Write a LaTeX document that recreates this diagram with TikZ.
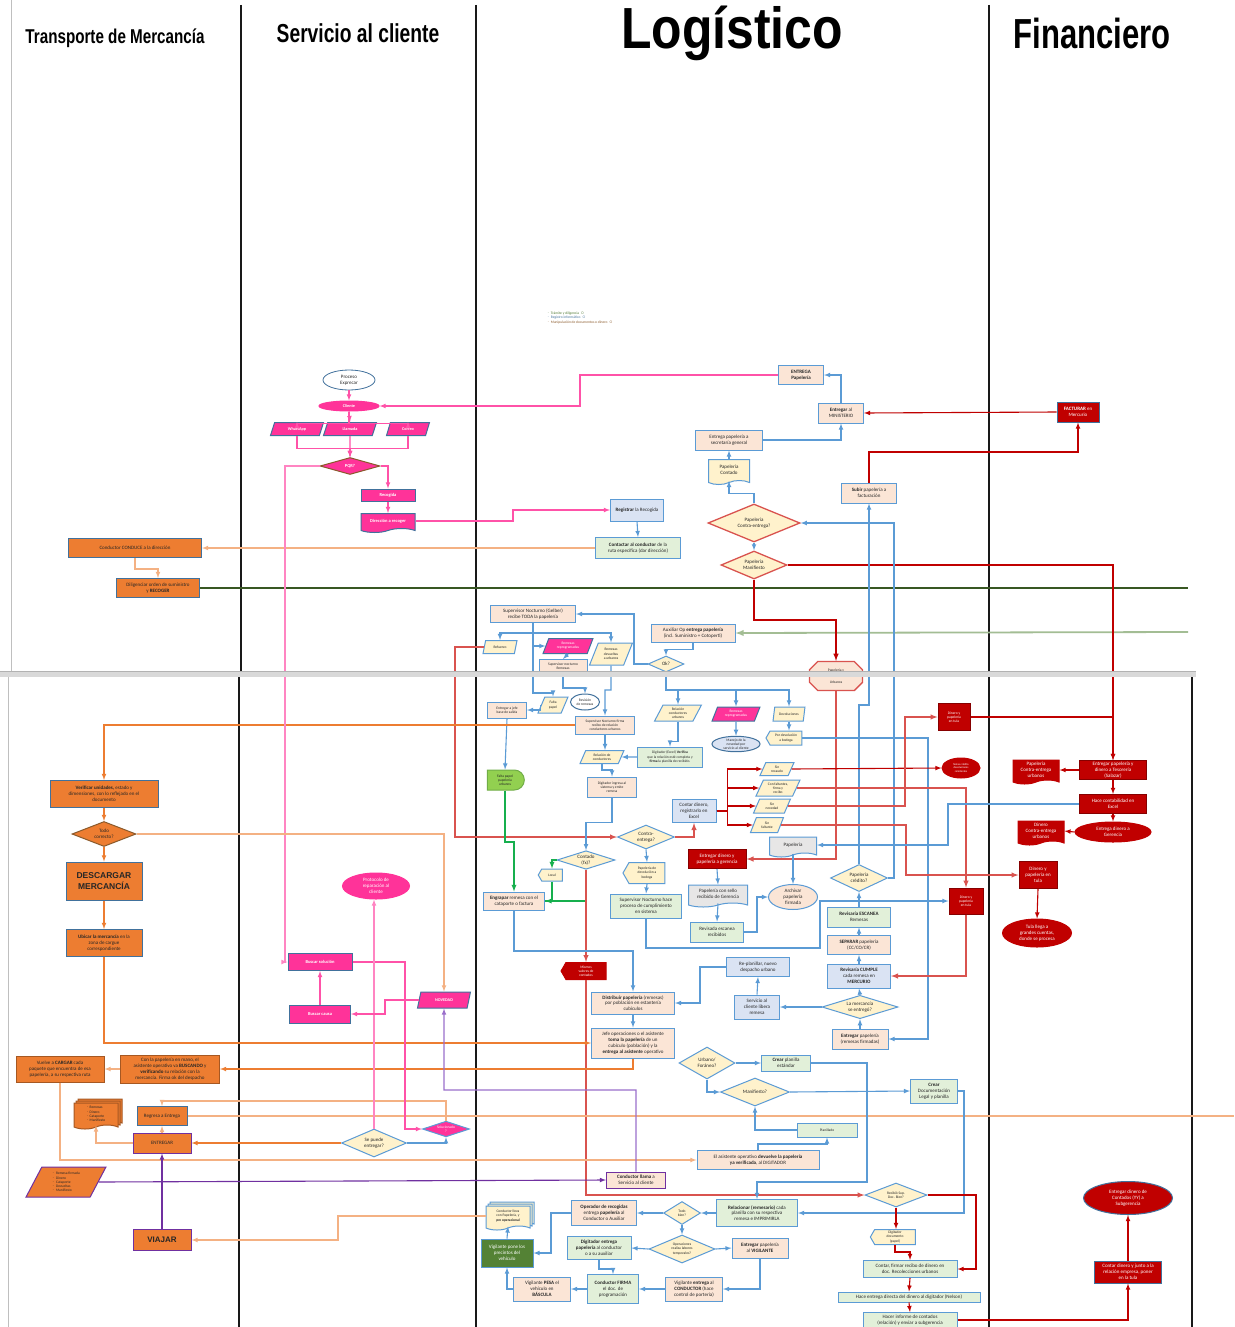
\documentclass[tikz,border=0pt]{standalone}
\usepackage{fontspec}
\setmainfont{Carlito}
\newfontfamily\hdrfont{Liberation Sans}
\usepackage{tikz}
\usetikzlibrary{arrows,shapes.geometric,shapes.symbols,shapes.misc,shadows}
\definecolor{lbl}{HTML}{5B9BD5}
\definecolor{peach}{HTML}{FBE5D6}
\definecolor{yel}{HTML}{FFF2CC}
\definecolor{lgrn}{HTML}{E2F0D9}
\definecolor{lblu}{HTML}{DAE3F3}
\definecolor{gry}{HTML}{E7E6E6}
\definecolor{pnk}{HTML}{FF3399}
\definecolor{lpnk}{HTML}{FF85C2}
\definecolor{orng}{HTML}{ED7D31}
\definecolor{lorg}{HTML}{F4B183}
\definecolor{obord}{HTML}{41719C}
\definecolor{dred}{HTML}{C00000}
\definecolor{lred}{HTML}{D9534F}
\definecolor{purp}{HTML}{7030A0}
\definecolor{lpur}{HTML}{9B6FCB}
\definecolor{grn}{HTML}{70AD47}
\definecolor{bgrn}{HTML}{00B050}
\definecolor{lime}{HTML}{92D050}
\definecolor{dgrn}{HTML}{548235}
\definecolor{fgrn}{HTML}{385723}
\definecolor{sgrn}{HTML}{A3BD94}
\definecolor{brn}{HTML}{8B5A2B}

\begin{document}
\begin{tikzpicture}[x=1pt,y=-1pt,>=latex,
    nd/.style={font=\fontsize{5}{5.8}\selectfont, align=center, inner sep=0.5pt, line width=1pt, text=black!85},
    tn/.style={font=\fontsize{3.6}{4.2}\selectfont},
    wh/.style 2 args={minimum width=#1pt, minimum height=#2pt},
    bx/.style={nd, rectangle, draw=lbl, fill=peach},
    gbx/.style={bx, fill=lgrn},
    bbx/.style={bx, fill=lblu},
    obx/.style={nd, rectangle, draw=obord, fill=orng},
    pbx/.style={nd, rectangle, draw=obord, fill=pnk, text=white, font=\fontsize{4.5}{5.2}\selectfont\bfseries},
    rbx/.style={nd, rectangle, draw=dred!70!black, fill=dred, text=white},
    dia/.style={nd, diamond, aspect=2, inner sep=0pt, draw=lbl, fill=yel},
    para/.style={nd, trapezium, trapezium left angle=65, trapezium right angle=115, trapezium stretches=true, inner sep=0pt, draw=lbl, fill=yel},
    pp/.style={para, fill=pnk, draw=obord, text=white, font=\fontsize{4.2}{4.8}\selectfont\bfseries},
    ell/.style={nd, ellipse, inner sep=0pt},
    doc/.style={nd, tape, tape bend top=none, tape bend height=4pt, inner sep=0pt},
    disp/.style={nd, signal, signal to=west, signal pointer angle=120, inner sep=0pt, draw=lbl, fill=yel},
    dly/.style={nd, rounded rectangle, rounded rectangle left arc=none, inner sep=0pt},
    hdr/.style={inner sep=0pt, text=black},
    lane/.style={line width=2.6pt, black!90},
    bl/.style={draw=lbl, line width=1.1pt},
    rd/.style={draw=dred, line width=1.1pt},
    rdl/.style={draw=lred, line width=1.4pt},
    pk/.style={draw=pnk!85, line width=1.1pt},
    pkl/.style={draw=lpnk, line width=1.1pt},
    ol/.style={draw=lorg, line width=1.1pt},
    od/.style={draw=orng, line width=1.1pt},
    pu/.style={draw=purp, line width=1.1pt},
    pul/.style={draw=lpur, line width=1.1pt},
    gn/.style={draw=bgrn!80!grn, line width=1.3pt}]
    \useasboundingbox (0,0) rectangle (1234,1327);
    \fill[white] (0,0) rectangle (1234,1327);
    % Lanes
    \draw[black!25, line width=1pt] (11,0) -- (11,672);
    \foreach \x in {241,476,989}
      \draw[lane] (\x,5) -- (\x,671);
    \draw[black!25, line width=1pt] (8,677) -- (8,1327);
    \foreach \x in {239,476,989,1192}
      \draw[lane] (\x,677) -- (\x,1327);
    % Headers
    \node[hdr, font=\hdrfont\bfseries\fontsize{20}{20}\selectfont] (hTra) at (115,38) {\scalebox{0.76}[1]{Transporte de Mercancía}};
    \node[hdr, font=\hdrfont\bfseries\fontsize{26}{26}\selectfont] (hSer) at (358,33) {\scalebox{0.74}[1]{Servicio al cliente}};
    \node[hdr, font=\hdrfont\bfseries\fontsize{58}{58}\selectfont] (hLog) at (732,33) {\scalebox{0.86}[1]{Logístico}};
    \node[hdr, font=\hdrfont\bfseries\fontsize{42}{42}\selectfont] (hFin) at (1092,33) {\scalebox{0.74}[1]{Financiero}};
    % Legend
    \node[nd, tn, align=left, anchor=west] (legend) at (546,318) {\textcolor{grn!70!black}{$\cdot$\ \ Trámite y diligencia\ \ $\circ$}\\\textcolor{obord}{$\cdot$\ \ Registro informático\ \ $\circ$}\\\textcolor{brn}{$\cdot$\ \ Manipulación de documentos o dinero\ \ $\circ$}};

    % --- Servicio al cliente (top) ---
    \node[ell, wh={52}{20}, draw=obord, fill=white, line width=0.8pt] (proc) at (349,380) {Proceso\\Exprecar};
    \node[ell, wh={60}{10}, fill=pnk, draw=pnk, text=white, font=\fontsize{4.2}{4.6}\selectfont\bfseries] (cliente) at (349,406) {Cliente};
    \node[pp, wh={53}{13}] (wapp) at (297,429) {WhatsApp};
    \node[pp, wh={53}{13}] (llam) at (350,429) {Llamada};
    \node[pp, wh={43}{13}] (corr) at (408,429) {Correo};
    \node[dia, wh={60}{17}, fill=pnk, draw=brn, text=white, font=\fontsize{4.5}{5}\selectfont\bfseries] (pqr) at (350,466) {PQR?};
    \node[pbx, wh={54}{12}] (recog) at (388,495) {Recogida};
    \node[doc, wh={54}{19}, fill=pnk, draw=obord, text=white, font=\fontsize{4.5}{5}\selectfont\bfseries] (direc) at (388,521) {Dirección a recoger};
    % --- Transporte (top) ---
    \node[obx, wh={133}{19}] (conduce) at (135,548) {Conductor CONDUCE a la dirección};
    \node[obx, wh={83}{19}] (dilig) at (158,588) {Diligenciar orden de suministro\\y \textbf{RECOGER}};
    % --- Logistico (top) ---
    \node[bbx, wh={53}{22}] (registrar) at (637,510) {\textbf{Registrar} la Recogida};
    \node[gbx, wh={85}{21}] (contactar) at (638,548) {\textbf{Contactar al conductor} de la\\ruta específica (dar dirección)};
    \node[bx, wh={45}{19}] (entrega) at (801,375) {\textbf{ENTREGA}\\\textbf{Papelería}};
    \node[bx, wh={45}{20}] (entmin) at (841,413) {\textbf{Entregar} al\\MINISTERIO};
    \node[bx, wh={67}{20}] (secre) at (729,440) {Entrega papelería a\\secretaría general};
    \node[doc, wh={41}{25}, draw=lbl, fill=yel] (contado) at (729,470) {Papelería\\Contado};
    \node[dia, wh={92}{38}, draw=lred, line width=1.3pt] (pce) at (754,523) {Papelería\\Contra-entrega?};
    \node[dia, wh={66}{28}, draw=lred, line width=1.3pt] (pman) at (754,565) {Papelería\\Manifiesto};
    \node[bx, wh={55}{20}] (subir) at (869,493) {\textbf{Subir} papelería a\\facturación};
    \node[rbx, wh={42}{20}, draw=obord] (facturar) at (1078,412) {\textbf{FACTURAR} en\\Mercurio};
    \node[bx, wh={85}{17}] (supnoc1) at (533,614) {Supervisor Nocturno (Gelber)\\recibe TODA la papelería};
    \node[bx, wh={84}{18}] (auxop) at (693,633) {Auxiliar Op \textbf{entrega papelería}\\(incl. Suministro + Cotoperti)};
    \node[dia, wh={36}{16}] (okq) at (666,664) {Ok?};
    \node[para, wh={34}{13}, tn] (refuerzo) at (500,647) {Refuerzo};
    \node[pp, wh={50}{15}, tn] (reprog) at (568,646) {Remesas\\reprogramadas};
    \node[bx, wh={48}{13}, tn] (supnoc2) at (563,666) {Supervisor nocturno\\Remesas};
    \node[para, wh={43}{22}, tn] (remdev) at (611,654) {Remesas\\devueltas\\a urbanos};
    \node[nd, chamfered rectangle, chamfered rectangle xsep=5pt, wh={53}{29}, draw=lred, line width=1.3pt, fill=peach, tn] (papurb) at (836,676) {Papelería y\\[8pt]Urbanos};
    % --- Financiero (top) ---

    % --- Transporte (bottom) ---
    \node[obx, wh={108}{27}] (verif) at (104,794) {\textbf{Verificar unidades,} estado y\\dimensiones, con lo reflejado en el\\documento};
    \node[dia, wh={64}{25}, fill=orng, draw=brn] (todo) at (104,834) {Todo\\correcto?};
    \node[obx, wh={76}{38}, font=\hdrfont\bfseries\fontsize{8.5}{10.5}\selectfont] (descargar) at (104,881) {DESCARGAR\\MERCANCÍA};
    \node[obx, wh={76}{27}] (ubicar) at (104,943) {\textbf{Ubicar la mercancía} en la\\zona de cargue\\correspondiente};
    \node[obx, wh={88}{26}, draw=orng!70!black] (vuelve) at (60,1069) {Vuelve a \textbf{CARGAR} cada\\paquete que encuentra de esa\\papelería, a su respectiva ruta};
    \node[obx, wh={99}{28}, draw=orng!70!black] (conpap) at (170,1069) {Con la papelería en mano, el\\asistente operativo va \textbf{BUSCANDO} y\\\textbf{verificando} su relación con la\\mercancía. Firma ok del despacho};
    \node[doc, wh={44}{26}, fill=orng, draw=orng!70!black, align=left, tn, double copy shadow={shadow xshift=2pt, shadow yshift=2pt, fill=orng, draw=orng!70!black}] (odocs) at (96,1114) {$\cdot$\ Remesas\\$\cdot$\ Dinero\\$\cdot$\ Cataporte\\$\cdot$\ Manifiesto};
    \node[obx, wh={50}{19}] (regresa) at (162,1116) {Regresa a Entrega};
    \node[obx, wh={58}{20}, draw=purp] (entregar) at (162,1143) {ENTREGAR};
    \node[para, wh={80}{30}, fill=orng, draw=purp, align=left, tn] (olist) at (66,1182) {$\cdot$\ \ Remesa firmada\\$\cdot$\ \ Dinero\\$\cdot$\ \ Cataporte\\$\cdot$\ \ Devueltas\\$\cdot$\ \ Manifiesto};
    \node[obx, wh={58}{21}, draw=purp, font=\hdrfont\bfseries\fontsize{8}{9}\selectfont] (viajar) at (162,1240) {VIAJAR};
    % --- Servicio al cliente (bottom) ---
    \node[ell, wh={67}{26}, fill=pnk, draw=pnk, text=white] (protocolo) at (376,886) {Protocolo de\\reparación al\\cliente};
    \node[pbx, wh={64}{17}] (buscsol) at (320,962) {Buscar solución};
    \node[pbx, wh={61}{18}] (busccausa) at (320,1014) {Buscar causa};
    \node[pp, wh={53}{16}] (noved) at (444,1000) {NOVEDAD};
    \node[dia, wh={65}{28}] (sepuede) at (374,1143) {Se puede\\entregar?};
    \node[dia, wh={47}{15}, fill=pnk, draw=lbl, text=white, tn] (soluc) at (446,1129) {Solucionado\\?};
    % --- Logistico (bottom) ---
    \node[bx, wh={39}{16}, tn] (entjefe) at (507,710) {Entregar a jefe\\base de salida};
    \node[para, wh={30}{16}, tn] (faltap) at (553,705) {Falta\\papel};
    \node[ell, wh={29}{16}, draw=obord, fill=white, tn] (revrem) at (585,702) {Revisión\\de remesas};
    \node[bx, wh={59}{18}, tn] (supnoc3) at (605,725) {Supervisor Nocturno firma\\recibo de relación\\conductores urbanos};
    \node[para, wh={44}{13}, tn] (relcond) at (602,757) {Relación de\\conductores};
    \node[bx, wh={49}{20}, tn] (digsis) at (612,787) {Digitador ingresa al\\sistema y emite\\remesa};
    \node[para, wh={47}{16}, tn] (relurb) at (678,713) {Relación\\conductores\\urbanos};
    \node[pp, wh={48}{14}, tn] (reprog2) at (736,714) {Remesas\\reprogramadas};
    \node[para, wh={32}{14}, tn] (devol) at (789,714) {Devoluciones};
    \node[ell, wh={48}{15}, draw=obord, fill=lblu, tn] (manejo) at (736,744) {Manejo de la\\novedad por\\servicio al cliente};
    \node[disp, wh={36}{14}, tn] (bodega) at (786,738) {Por devolución\\a bodega};
    \node[gbx, wh={65}{20}, tn] (digexc) at (670,757) {Digitador (Excel) \textbf{Verifica}\\que la relación esté completa y\\\textbf{firma} la planilla de recibido.};
    \node[dly, wh={37}{20}, fill=lime, draw=grn, tn] (faltaurb) at (505,780) {Falta papel\\papelería\\urbanos};
    \node[bbx, wh={44}{23}] (contar) at (694,811) {Contar dinero,\\registrarlo en\\Excel};
    \node[para, wh={34}{13}, tn] (p1) at (777,769) {Sin\\recaudo};
    \node[para, wh={44}{16}, tn] (p2) at (778,788) {Con faltantes,\\firma y\\recibo};
    \node[para, wh={37}{14}, tn] (p3) at (772,806) {Sin\\novedad};
    \node[para, wh={33}{15}, tn] (p4) at (767,825) {Sin\\faltante};
    \node[dia, wh={57}{24}] (contra2) at (646,837) {Contra-\\entrega?};
    \node[dia, wh={58}{18}] (contado2) at (586,860) {Contado\\(fx)?};
    \node[disp, wh={24}{12}, tn] (local) at (552,875) {Local};
    \node[disp, wh={42}{21}, tn] (devbod) at (647,873) {Papelería de\\devolución a\\bodega};
    \node[bx, wh={61}{18}] (engrapar) at (514,901) {\textbf{Engrapar} remesa con el\\cataporte o factura};
    \node[gbx, wh={71}{24}] (supproc) at (646,906) {Supervisor Nocturno hace\\proceso de cumplimiento\\en sistema};
    \node[disp, wh={45}{17}, fill=dred, draw=dred, text=white, tn] (mismos) at (586,971) {Mismos\\valores de\\contados};
    \node[rbx, wh={58}{19}] (entger) at (717,859) {Entregar dinero y\\papelería a gerencia};
    \node[doc, wh={59}{22}, draw=lbl, fill=gry] (papsello) at (718,894) {Papelería con sello\\recibido de Gerencia};
    \node[gbx, wh={53}{20}] (revisada) at (717,932) {Revisada escanea\\recibidos};
    \node[doc, wh={47}{20}, draw=lbl, fill=gry] (papel) at (793,845) {Papelería};
    \node[ell, wh={49}{25}, draw=lbl, fill=peach] (archivar) at (793,897) {Archivar\\papelería\\firmada};
    \node[dia, wh={57}{27}] (credito) at (859,878) {Papelería\\crédito?};
    \node[gbx, wh={63}{20}] (escanea) at (859,917) {\textbf{Revisaría ESCANEA}\\Remesas};
    \node[bx, wh={63}{19}] (separar) at (859,945) {\textbf{SEPARAR} papelería\\(CC/CO/CR)};
    \node[bbx, wh={63}{24}] (cumple) at (859,976) {\textbf{Revisaría CUMPLE}\\cada remesa en\\\textbf{MERCURIO}};
    \node[dia, wh={76}{20}] (seentrego) at (860,1007) {La mercancía\\se entregó?};
    \node[bx, wh={56}{20}] (entpap) at (860,1039) {\textbf{Entregar} papelería\\(remesas firmadas)};
    \node[bbx, wh={63}{19}] (replan) at (758,967) {Re-planillar, nuevo\\despacho urbano};
    \node[bbx, wh={45}{24}] (servlib) at (757,1007) {Servicio al\\cliente libera\\remesa};
    \node[bx, wh={83}{22}] (distrib) at (633,1003) {\textbf{Distribuir papelería} (remesas)\\por población en estantería\\cubículos};
    \node[bx, wh={83}{30}] (jefeop) at (633,1043) {Jefe operaciones o el asistente\\\textbf{toma la papelería} de un\\cubículo (población) y la\\\textbf{entrega al asistente} operativo};
    \node[dia, wh={56}{32}] (urbfor) at (707,1063) {Urbano/\\Foráneo?};
    \node[gbx, wh={49}{16}] (crearpl) at (786,1063) {\textbf{Crear} planilla\\estándar};
    \node[dia, wh={69}{28}] (manif2) at (755,1092) {Manifiesto?};
    \node[gbx, wh={47}{24}] (creardoc) at (934,1091) {\textbf{Crear}\\Documentación\\Legal y planilla};
    \node[gbx, wh={60}{14}, tn] (planill) at (827,1130) {Planillado};
    \node[bx, wh={122}{19}] (asist) at (758,1160) {El asistente operativo \textbf{devuelve la papelería}\\\textbf{ya verificada}, al DIGITADOR};
    \node[bx, wh={59}{16}, draw=purp] (llama) at (636,1180) {\textbf{Conductor llama} a\\Servicio al cliente};
    \node[dia, wh={62}{24}, tn] (recibio) at (896,1195) {Recibió Sup.\\Doc. Bien?};
    \node[disp, wh={45}{15}, tn] (digdoc) at (895,1237) {Digitador\\documento\\(papel)};
    \node[gbx, wh={94}{17}] (contfir) at (910,1269) {Contar, firmar recibo de dinero en\\doc. Recolecciones urbanos};
    \node[gbx, wh={142}{10}] (entdir) at (909,1297) {Hace entrega directa del dinero al digitador (Nelson)};
    \node[gbx, wh={94}{15}] (informe) at (910,1320) {Hacer informe de contados\\(relación) y enviar a subgerencia};
    \node[gbx, wh={81}{27}] (relac) at (757,1213) {\textbf{Relacionar (remesario)} cada\\planilla con su respectiva\\remesa e IMPRIMIRLA};
    \node[dia, wh={37}{23}, tn] (todook) at (682,1213) {Todo\\bien?};
    \node[bx, wh={65}{25}] (operador) at (604,1213) {\textbf{Operador de recogidas}\\entrega \textbf{papelería} al\\Conductor o Auxiliar};
    \node[dia, wh={66}{28}, tn] (operac) at (682,1249) {Operaciones\\realiza labores\\temporales?};
    \node[gbx, wh={64}{23}] (digent) at (599,1248) {\textbf{Digitador entrega}\\\textbf{papelería} al conductor\\o a su auxiliar};
    \node[bx, wh={56}{20}] (entvig) at (760,1248) {\textbf{Entregar} papelería\\al \textbf{VIGILANTE}};
    \node[bx, wh={57}{24}] (vigent) at (694,1289) {Vigilante \textbf{entrega} al\\\textbf{CONDUCTOR} (hace\\control de portería)};
    \node[gbx, wh={51}{29}] (condfir) at (613,1289) {\textbf{Conductor FIRMA}\\el doc. de\\programación};
    \node[bx, wh={57}{24}] (vigpesa) at (542,1289) {Vigilante \textbf{PESA} el\\vehículo en\\\textbf{BÁSCULA}};
    \node[nd, rectangle, wh={52}{28}, fill=dgrn, draw=lbl, text=white] (vigprec) at (507,1253) {Vigilante pone los\\precintos del\\vehículo};
    \node[doc, wh={44}{24}, draw=lbl, fill=yel, tn, double copy shadow={shadow xshift=2pt, shadow yshift=2pt, fill=yel, draw=lbl}] (multi) at (508,1216) {Conductor lleva\\con Papelería, y\\\textbf{pre operacional}};
    % --- Financiero (bottom) ---
    \node[rbx, wh={32}{27}, tn] (tula1) at (954,717) {Dinero y\\papelería\\en tula};
    \node[ell, wh={38}{20}, fill=dred, draw=dred, text=white, font=\fontsize{2.8}{3.3}\selectfont] (notas) at (961,768) {Notas crédito\\devoluciones\\remitentes};
    \node[rbx, wh={34}{26}, tn] (tula3) at (966,901) {Dinero y\\papelería\\en tula};
    \node[rbx, wh={67}{19}] (tesor) at (1113,770) {Entregar papelería y\\dinero a Tesorería\\(Salazar)};
    \node[doc, wh={46}{24}, fill=dred, draw=dred, text=white] (pcedoc) at (1036,770) {Papelería\\Contra-entrega\\urbanos};
    \node[rbx, wh={67}{19}] (contab) at (1113,804) {Hace contabilidad en\\Excel};
    \node[ell, wh={76}{20}, fill=dred, draw=dred, text=white] (entdin) at (1113,832) {Entrega dinero a\\Gerencia};
    \node[doc, wh={46}{24}, fill=dred, draw=dred, text=white] (dcedoc) at (1041,831) {Dinero\\Contra-entrega\\urbanos};
    \node[rbx, wh={38}{27}] (tula2) at (1038,875) {Dinero y\\papelería en\\tula};
    \node[ell, wh={69}{28}, fill=dred, draw=dred, text=white] (tulagc) at (1037,933) {Tula llega a\\grandes cuentas,\\donde se procesa};
    \node[ell, wh={89}{33}, fill=dred, draw=obord, text=white] (subger) at (1128,1198) {Entregar dinero de\\Contados (YY) a\\Subgerencia};
    \node[rbx, wh={67}{22}, draw=obord] (contjunto) at (1128,1272) {Contar dinero y junto a la\\relación empresa, poner\\en la tula};
    % Free ends
    \coordinate (gd1) at (1188,588);
    \coordinate (gd2) at (1188,632);
    \coordinate (oend) at (1234,1116);

    % --- Connectors (top) ---
    \draw[pk,->] (proc.south) -- (cliente.north);
    \draw[pk,->] (cliente.south) -- ++(0,12) -| (wapp.north);
    \draw[pk,->] (cliente.south) -- (llam.north);
    \draw[pk,->] (cliente.south) -- ++(0,12) -| (corr.north);
    \draw[pk,->] (wapp.south) -- ++(0,12.5) -| (pqr.north);
    \draw[pk,->] (corr.south) -- ++(0,12.5) -| (pqr.north);
    \draw[pk,->] (llam.south) -- (pqr.north);
    \draw[pk,->] (pqr.east) -| (recog.north);
    \draw[pk,->] (recog.south) -- (direc.north);
    \draw[pk,->] (direc.east) -| (513,510) -- (registrar.west);
    \draw[pk,->] (entrega.west) -| (580,406) -- (cliente.east);
    \draw[bl,->] (registrar.south) -- (contactar.north);
    \draw[ol,->] (contactar.west) -- (conduce.east);
    \draw[ol,->] (conduce.south) -- ++(0,11) -| (dilig.north);
    \draw[draw=fgrn, line width=1.2pt] (dilig.east) -- (gd1);
    \draw[draw=sgrn, line width=1.8pt,->] (gd2) -- (auxop.east);
    \draw[bl,->] (pce.north) -- ++(0,-10) -| (contado.south);
    \draw[bl,->] (contado.north) -- (secre.south);
    \draw[bl,->] (secre.east) -| (entmin.south);
    \draw[bl,->] (entmin.north) |- (entrega.east);
    \draw[rd,->] (facturar.west) -- (entmin.east);
    \draw[rd,->] (subir.north) |- (1078,452) -- (facturar.south);
    \draw[bl,->] (pce.south) -- (pman.north);
    \draw[rd,->] (pman.east) -| (tesor.north);
    \draw[rd,line width=1.5pt,->] (pman.south) -- (754,620) -| (papurb.north);
    \draw[bl,->] (auxop.south) -- ++(0,7) -| (okq.north);
    \draw[bl,->] (okq.west) -| (634,614) -- (supnoc1.east);
    \draw[bl,->] (supnoc1.south) -- ++(0,10) -| (refuerzo.north);
    \draw[bl,->] (supnoc1.south) -- ++(0,10) -| (remdev.north);
    \draw[bl,->] (supnoc1.south) |- (reprog.west);
    \draw[bl,->] (reprog.south) -- (supnoc2.north);

    % --- Connectors (bottom) ---
    \draw[bl,->] (supnoc1.south) -- (533,693) -| (faltap.north);
    \draw[bl,->] (supnoc2.south) -- (563,688) -| (revrem.north);
    \draw[bl,->] (remdev.south) -- (611,690) -| (supnoc3.north);
    \draw[rdl,->] (refuerzo.west) -| (455,837) -- (contra2.west);
    \draw[rdl,->] (papurb.south) |- (entger.east);
    \draw[bl,->] (credito.east) -| (894,523) -- (pce.east);
    \draw[bl,->] (credito.north) -- (859,705) -| (subir.south);
    \draw[bl,->] (faltap.west) |- (entjefe.east);
    \draw[bl,->] (entjefe.south) -- (faltaurb.north);
    \draw[gn,->] (faltaurb.south) |- (514,842) -- (engrapar.north);
    \draw[od,->] (supnoc3.west) -| (verif.north);
    \draw[bl,->] (supnoc3.south) -- (supnoc3.south |- relcond.north);
    \draw[bl,->] (relcond.south) -- ++(0,6) -| (digsis.north);
    \draw[bl,->] (digexc.west) -- (relcond.east);
    \draw[bl,->] (digsis.south) -- ++(0,25) -| (contado2.north);
    \draw[bl,->] (okq.south) -- (666,690) -| (relurb.north);
    \draw[bl,->] (okq.south) -- (666,690) -| (reprog2.north);
    \draw[bl,->] (okq.south) -- (666,690) -| (devol.north);
    \draw[bl,->] (relurb.south) -- ++(0,20) -| (digexc.north);
    \draw[bl,->] (reprog2.south) -- (manejo.north);
    \draw[bl,->] (devol.south) -- (devol.south |- bodega.north);
    \draw[bl,->] (bodega.east) -| (928,1039) -- (entpap.east);
    \draw[rd,->] (contar.east) -- ++(11,0) |- (p1.west);
    \draw[rd,->] (contar.east) -- ++(11,0) |- (p2.west);
    \draw[rd,->] (contar.east) -- ++(11,0) |- (p3.west);
    \draw[rd,->] (contar.east) -- ++(11,0) |- (p4.west);
    \draw[rd,->] (p1.east) -- (notas.west);
    \draw[rdl,->] (p2.east) -| (tula3.north);
    \draw[rdl,->] (p3.east) -| (905,717) -- (tula1.west);
    \draw[rdl,->] (p4.east) -| (906,875) -- (tula2.west);
    \draw[rd,->] (tula1.east) -| (tesor.north);
    \draw[rd,->] (tesor.west) -- (pcedoc.east);
    \draw[rd,->] (tesor.south) -- (contab.north);
    \draw[rd,->] (contab.south) -- (entdin.north);
    \draw[rd,->] (entdin.west) -- (dcedoc.east);
    \draw[bl,->] (contab.west) -| (948,845) -- (papel.east);
    \draw[rd,->] (tula2.south) -- (tulagc.north);
    \draw[rdl,->] (tula3.south) |- (cumple.east);
    \draw[rdl,->] (contra2.east) -| (contar.south);
    \draw[bl,->] (contra2.south) -- (devbod.north);
    \draw[bl,->] (devbod.south) -- (supproc.north);
    \draw[bl,->] (supproc.south) |- (820,948) |- (tula3.west);
    \draw[gn,->] (contado2.west) -| (local.north);
    \draw[gn] (local.south) |- (engrapar.east);
    \draw[gn,->] (contado2.south) |- (engrapar.east);
    \draw[rdl,->] (contado2.south) -- (mismos.north);
    \draw[rdl,->] (mismos.south) |- (recibio.west);
    \draw[bl,->] (entger.south) -- (papsello.north);
    \draw[bl,->] (papsello.south) -- (revisada.north);
    \draw[bl,->] (revisada.east) -- ++(13,0) |- (archivar.west);
    \draw[bl,->] (papel.south) -- (archivar.north);
    \draw[bl,->] (escanea.north) -- (credito.south);
    \draw[bl,->] (separar.north) -- (escanea.south);
    \draw[bl,->] (cumple.north) -- (separar.south);
    \draw[bl,->] (seentrego.north) -- (cumple.south);
    \draw[bl,->] (entpap.north) -- (seentrego.south);
    \draw[bl,->] (seentrego.west) -- (servlib.east);
    \draw[bl,->] (servlib.north) -- (replan.south);
    \draw[bl,->] (replan.west) -| (700,1003) -- (distrib.east);
    \draw[bl,->] (engrapar.south) |- (633,951) -- (distrib.north);
    \draw[bl,->] (distrib.south) -- (jefeop.north);
    \draw[od,->] (ubicar.south) |- (jefeop.west);
    \draw[od,->] (jefeop.south) |- (conpap.east);
    \draw[ol,->] (conpap.west) -- (vuelve.east);
    \draw[ol,->] (vuelve.south) |- (asist.west);
    \draw[ol] (regresa.east) -- (oend);
    \draw[ol,->] (entregar.north) -- (regresa.south);
    \draw[ol,->] (entregar.west) -| (odocs.south);
    \draw[od,->] (sepuede.west) -- (entregar.east);
    \draw[bl,->] (sepuede.east) -| (soluc.south);
    \draw[ol,->] (soluc.north) |- (162,1101) -- (regresa.north);
    \draw[pk,->] (buscsol.east) -| (405,1129) -- (soluc.west);
    \draw[pkl,->] (pqr.west) -| (285,962) -- (buscsol.west);
    \draw[pkl,->] (sepuede.north) -- (sepuede.north |- protocolo.south);
    \draw[pk,->] (busccausa.north) -- (buscsol.south);
    \draw[pk,->] (noved.west) -| (385,1014) -- (busccausa.east);
    \draw[ol,->] (todo.east) -| (noved.north);
    \draw[od,->] (verif.south) -- (todo.north);
    \draw[od,->] (todo.south) -- (descargar.north);
    \draw[od,->] (descargar.south) -- (ubicar.north);
    \draw[pul,->] (llama.north) |- (444,1090) -- (noved.south);
    \draw[pu,->] (olist.east) -- (llama.west);
    \draw[pu,->] (viajar.north) -- (entregar.south);
    \draw[ol,->] (multi.west) -| (338,1240) -- (viajar.east);
    \draw[bl,->] (urbfor.east) -- (crearpl.west);
    \draw[bl,->] (urbfor.south) |- (manif2.west);
    \draw[bl,->] (manif2.east) -- (creardoc.west);
    \draw[bl,->] (crearpl.east) -| (867,1182) -| (relac.north);
    \draw[bl,->] (creardoc.east) -| (964,1213) -- (relac.east);
    \draw[bl,->] (asist.north) |- (827,1144) -- (planill.south);
    \draw[bl,->] (planill.west) -| (manif2.south);
    \draw[bl,->] (relac.west) -- (todook.east);
    \draw[bl,->] (todook.west) -- (operador.east);
    \draw[bl,->] (todook.south) -- (operac.north);
    \draw[bl,->] (operac.west) -- (digent.east);
    \draw[bl,->] (operac.east) -- (entvig.west);
    \draw[bl,->] (entvig.south) |- (vigent.east);
    \draw[bl,->] (vigent.west) -- (condfir.east);
    \draw[bl,->] (digent.south) -- ++(0,9) -| (condfir.north);
    \draw[bl,->] (condfir.west) -- (vigpesa.east);
    \draw[bl,->] (vigpesa.west) -| (vigprec.south);
    \draw[bl,->] (vigprec.north) -- (multi.south);
    \draw[bl,->] (operador.west) -| (551,1253) -- (vigprec.east);
    \draw[rd,->] (recibio.south) -- (recibio.south |- digdoc.north);
    \draw[rd,->] (digdoc.south) |- (910,1252) -- (contfir.north);
    \draw[rd,->] (recibio.east) -| (976,1269) -- (contfir.east);
    \draw[rd,->] (contfir.south) -- (entdir.north);
    \draw[rd,->] (entdir.south) -- (informe.north);
    \draw[rd,->] (informe.east) -| (contjunto.south);
    \draw[rd,->] (contjunto.north) -- (subger.south);
    % Page break
    \fill[black!15] (0,671.5) rectangle (1196,677);
    \draw[black!30] (0,671.5) -- (1196,671.5);
\end{tikzpicture}
\end{document}
